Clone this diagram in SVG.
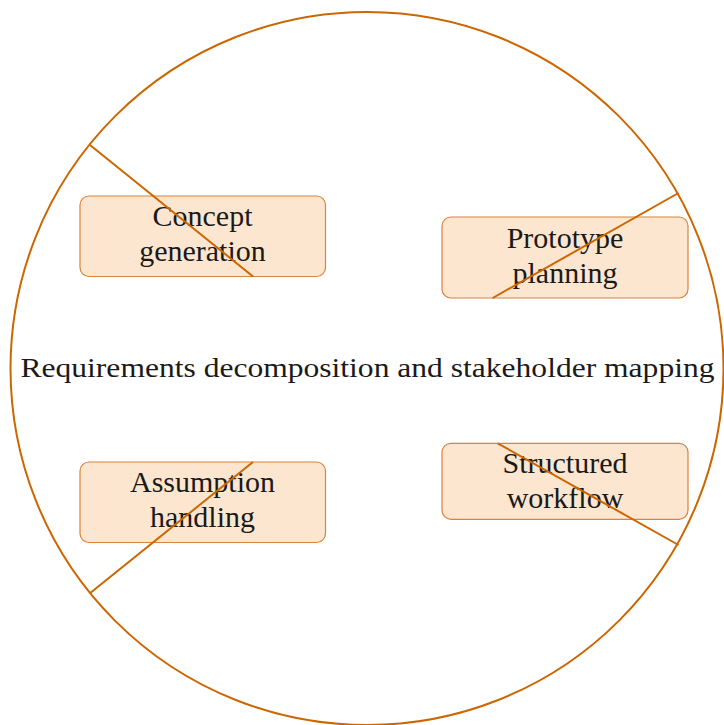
<svg xmlns="http://www.w3.org/2000/svg" width="724" height="725" viewBox="0 0 724 725">
<style>
.box{fill:#fde6d0;stroke:#d7843c;stroke-width:1.2}
.lbl{font-family:"Liberation Serif","Times New Roman",serif;font-size:30px;fill:#1a1a1a;text-anchor:middle}
.ctr{font-size:28px}
.ln{stroke:#cc6600;stroke-width:2;fill:none}
</style>
<rect width="724" height="725" fill="#ffffff"/>
<g id="hub">
<circle cx="367" cy="368.5" r="356.5" class="ln"/>
<text class="lbl ctr" x="367.5" y="377" textLength="694" lengthAdjust="spacingAndGlyphs">Requirements decomposition and stakeholder mapping</text>
</g>
<g id="concept">
<rect class="box" x="80" y="196" width="245.5" height="80.5" rx="9"/>
<text class="lbl" x="202.5" y="225.5">Concept</text>
<text class="lbl" x="202.5" y="260.5">generation</text>
</g>
<g id="prototype">
<rect class="box" x="442" y="217" width="246" height="81" rx="9"/>
<text class="lbl" x="565" y="247.5">Prototype</text>
<text class="lbl" x="565" y="282.5">planning</text>
</g>
<g id="assumption">
<rect class="box" x="80" y="462" width="245.5" height="80.5" rx="9"/>
<text class="lbl" x="202.5" y="491.5">Assumption</text>
<text class="lbl" x="202.5" y="526.5">handling</text>
</g>
<g id="structured">
<rect class="box" x="442" y="443.3" width="246" height="76" rx="9"/>
<text class="lbl" x="565" y="473.3">Structured</text>
<text class="lbl" x="565" y="508.3">workflow</text>
</g>
<g id="connectors">
<line class="ln" x1="90" y1="145" x2="253" y2="276.5"/>
<line class="ln" x1="678.5" y1="193" x2="492.7" y2="298"/>
<line class="ln" x1="90.5" y1="592.7" x2="253" y2="462"/>
<line class="ln" x1="678.5" y1="545" x2="497.7" y2="443.3"/>
</g>
</svg>
